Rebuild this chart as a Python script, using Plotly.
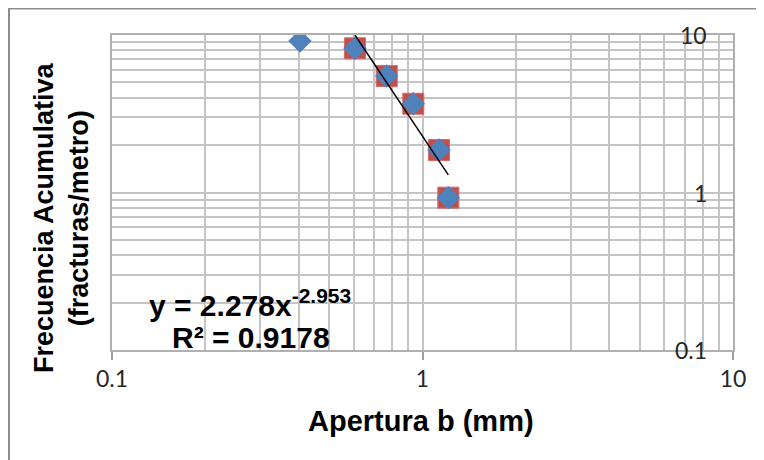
import numpy as np
import plotly.graph_objects as go

# ---- data ----
apertura_all = [0.403, 0.606, 0.767, 0.934, 1.13, 1.211]
frecuencia_all = [9.16, 8.23, 5.49, 3.66, 1.86, 0.927]
apertura_fit = [0.606, 0.767, 0.934, 1.13, 1.211]
frecuencia_fit = [8.23, 5.49, 3.66, 1.86, 0.927]

trend_coef = 2.278
trend_exp = -2.953
trend_r2 = 0.9178

major_ticks = [0.1, 1, 10]
major_labels = ["0.1", "1", "10"]
minor_ticks = [0.2, 0.3, 0.4, 0.5, 0.6, 0.7, 0.8, 0.9, 2, 3, 4, 5, 6, 7, 8, 9]

x_title = "Apertura b (mm)"
y_title = "Frecuencia Acumulativa<br>(fracturas/metro)"

# ---- figure ----
# page body has an 8px margin, so the figure is drawn 8px smaller
OFF = 8
W, H = 764 - OFF, 460 - OFF
L, R, T, B = 112 - OFF, 31, 35 - OFF, 110
pw, ph = W - L - R, H - T - B
PL, PB = 112, 350  # plot-area left / bottom on screen


def px(sx):
    return (sx - PL) / pw


def py(sy):
    return (PB - sy) / ph


grid = "#c4c4c4"
tickfont = dict(family="Lato, Liberation Sans, Arial", size=23, color="#262626")
bold = "Liberation Sans, Arial, sans-serif"

fig = go.Figure()

fig.add_trace(go.Scatter(
    x=apertura_fit, y=frecuencia_fit, mode="markers",
    marker=dict(symbol="square", size=21, color="#c0504d",
                line=dict(width=1, color="#d46a66")),
    showlegend=False, hoverinfo="skip"))

fig.add_trace(go.Scatter(
    x=apertura_all, y=frecuencia_all, mode="markers",
    marker=dict(symbol="diamond", size=18, color="#4f81bd",
                line=dict(width=0)),
    showlegend=False))

xt = np.geomspace(min(apertura_fit), max(apertura_fit), 20)
fig.add_trace(go.Scatter(
    x=xt, y=trend_coef * xt ** trend_exp, mode="lines",
    line=dict(color="#000000", width=1.5),
    showlegend=False, hoverinfo="skip"))

fig.update_xaxes(
    type="log", range=[-1, 1],
    tickvals=major_ticks, ticktext=major_labels,
    ticks="outside", ticklen=8, tickcolor="#a0a0a0", tickwidth=1.5,
    showgrid=True, gridcolor=grid, gridwidth=1.5,
    minor=dict(tickvals=minor_ticks, showgrid=True, gridcolor=grid,
               gridwidth=1.5, ticks=""),
    showline=True, linecolor="#b0b0b0", linewidth=1.5, mirror=True,
    zeroline=False, tickfont=tickfont,
)
fig.update_yaxes(
    type="log", range=[-1, 1],
    tickvals=major_ticks, showticklabels=False, ticks="",
    showgrid=True, gridcolor=grid, gridwidth=1.5,
    minor=dict(tickvals=minor_ticks, showgrid=True, gridcolor=grid,
               gridwidth=1.5, ticks=""),
    showline=True, linecolor="#b0b0b0", linewidth=1.5, mirror=True,
    zeroline=False,
)

annotations = []
# y tick labels drawn inside the plot, right-aligned near the right edge
for v, lab in zip(major_ticks, major_labels):
    annotations.append(dict(
        text=lab, xref="paper", yref="y", x=px(709), y=float(np.log10(v)),
        xanchor="right", yanchor="middle", showarrow=False, font=tickfont))

eqfont = dict(family=bold, size=30, color="#000000")
annotations += [
    dict(text=f"<b>{x_title}</b>", xref="paper", yref="paper",
         x=px(421), y=py(421),
         xanchor="center", yanchor="middle", showarrow=False,
         font=dict(family=bold, size=29, color="#000000")),
    dict(text=f"<b>{y_title}</b>", xref="paper", yref="paper",
         x=px(62), y=py(218),
         xanchor="center", yanchor="middle", showarrow=False, textangle=-90,
         font=dict(family=bold, size=27, color="#000000")),
    dict(text=f"<b>y = {trend_coef}x<sup>{trend_exp}</sup></b>",
         xref="paper", yref="paper",
         x=px(250), y=py(303),
         xanchor="center", yanchor="middle", showarrow=False, font=eqfont),
    dict(text=f"<b>R² = {trend_r2}</b>",
         xref="paper", yref="paper",
         x=px(251), y=py(337),
         xanchor="center", yanchor="middle", showarrow=False, font=eqfont),
]

shapes = [
    dict(type="line", xref="paper", yref="paper",
         x0=px(8), x1=px(770), y0=py(8.5), y1=py(8.5),
         line=dict(color="#8c8c8c", width=2)),
    dict(type="line", xref="paper", yref="paper",
         x0=px(9), x1=px(9), y0=py(8.5), y1=py(470),
         line=dict(color="#8c8c8c", width=2)),
]

fig.update_layout(
    width=W, height=H,
    margin=dict(l=L, r=R, t=T, b=B),
    paper_bgcolor="white", plot_bgcolor="white",
    annotations=annotations, shapes=shapes,
    showlegend=False,
)

fig.write_html("out.html")
